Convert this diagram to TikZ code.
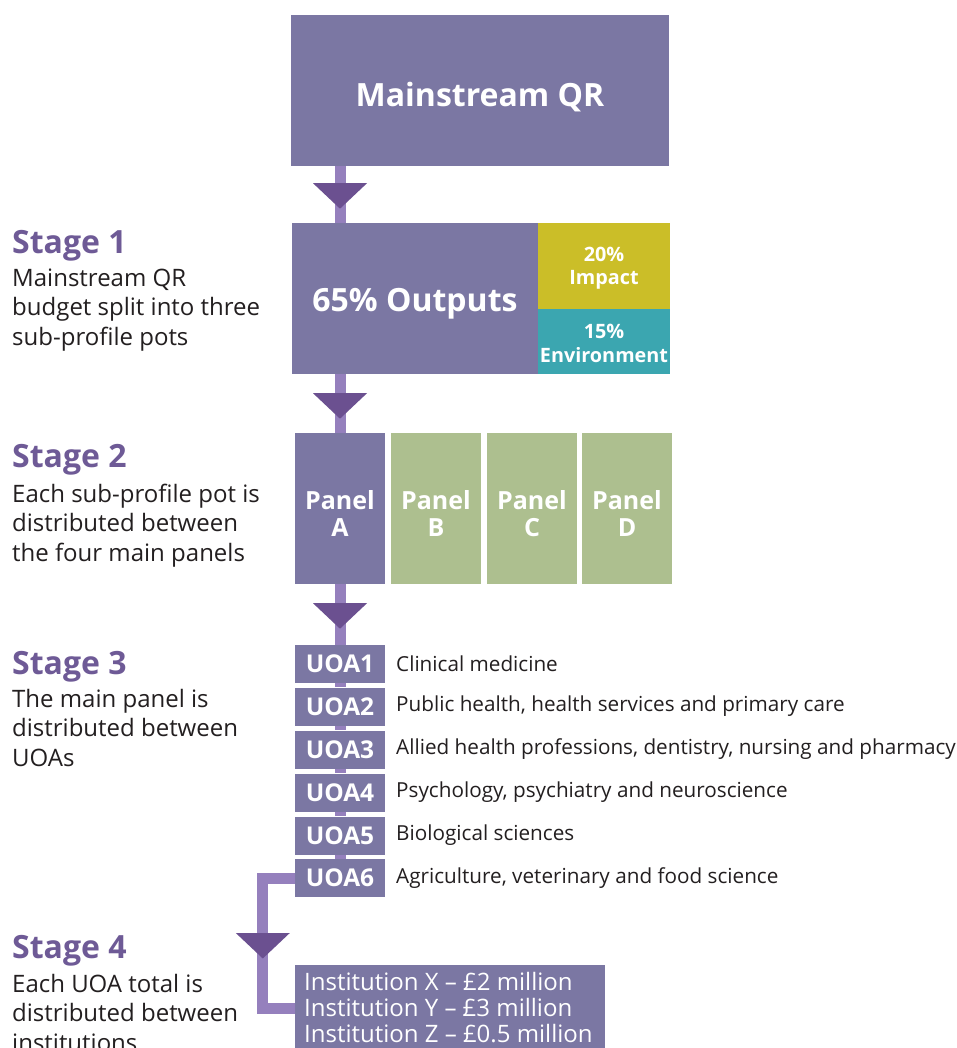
\documentclass[tikz,border=0pt]{standalone}
\usepackage{fontspec}
\setmainfont{Open Sans}
\usetikzlibrary{calc}
\definecolor{boxpurple}{HTML}{7B77A3}
\definecolor{linkpurple}{HTML}{9580BD}
\definecolor{tippurple}{HTML}{6B5090}
\definecolor{stagepurple}{HTML}{6E5A96}
\definecolor{impactyellow}{HTML}{CBBE28}
\definecolor{envteal}{HTML}{3BA6B0}
\definecolor{panelgreen}{HTML}{ADBF8F}
\definecolor{bodytext}{HTML}{231F20}
\tikzset{
  block/.style={fill=boxpurple, inner sep=0pt, text=white, align=center},
  link/.style={draw=linkpurple, line width=11pt},
  tip/.style={fill=tippurple},
  stagehead/.style={anchor=base west, inner sep=0pt, text=stagepurple,
    font=\fontsize{32}{36}\selectfont\bfseries},
  stagebody/.style={anchor=base west, inner sep=0pt, text=bodytext, align=left,
    font=\fontsize{24}{29.5}\selectfont},
  panelbox/.style={block, minimum width=90pt, minimum height=151pt,
    font=\fontsize{25}{27}\selectfont\bfseries},
  uoabox/.style={block, minimum width=90pt, minimum height=38pt,
    font=\fontsize{24.5}{26}\selectfont\bfseries},
  uoadesc/.style={anchor=west, inner sep=0pt, text=bodytext,
    font=\fontsize{20.7}{24}\selectfont},
  boxlabel/.style={inner sep=0pt, text=white, align=center},
}
% downward arrow tip hanging from a point on a connector
\newcommand\downtip[1]{\fill[tip] #1 ++(-27,0) -- ++(54,0) -- ++(-27,25.5) -- cycle;}
\begin{document}
\begin{tikzpicture}[x=1pt, y=-1pt]
\clip (0,0) rectangle (957,1048);
\fill[white] (0,0) rectangle (957,1048);

% top budget
\node[block, minimum width=378pt, minimum height=151pt] (mq) at (480,90.5) {};
\node[boxlabel, font=\fontsize{32}{36}\selectfont\bfseries] (mqt) at ($(mq)+(0,7)$) {Mainstream QR};

% stage 1: sub-profile pots
\node[block, minimum width=246pt, minimum height=151pt] (outputs) at (415,298.5) {};
\node[boxlabel, font=\fontsize{32}{36}\selectfont\bfseries] (outt) at ($(outputs)+(0,5)$) {65\% Outputs};
\node[block, fill=impactyellow, minimum width=132pt, minimum height=86pt] (impact) at (604,266) {};
\node[boxlabel, font=\fontsize{19.8}{23}\selectfont\bfseries] (impt) at ($(impact)+(0,2)$) {20\%\\Impact};
\node[block, fill=envteal, minimum width=132pt, minimum height=65pt] (env) at (604,341.5) {};
\node[boxlabel, font=\fontsize{19.8}{24}\selectfont\bfseries] (envt) at ($(env)+(0,2)$) {15\%\\Environment};

% stage 2: main panels
\node[panelbox] (pA) at (340,508.5) {};
\node[panelbox, fill=panelgreen] (pB) at (436,508.5) {};
\node[panelbox, fill=panelgreen] (pC) at (532,508.5) {};
\node[panelbox, fill=panelgreen] (pD) at (627,508.5) {};
\foreach \p/\l in {pA/A, pB/B, pC/C, pD/D}
  \node[boxlabel, font=\fontsize{25}{27}\selectfont\bfseries] (\p t) at ($(\p)+(0,5)$) {Panel\\\l};

% stage 3: units of assessment
\node[uoabox] (u1) at (340,664) {UOA1};
\node[uoabox] (u2) at (340,706.5) {UOA2};
\node[uoabox] (u3) at (340,749.5) {UOA3};
\node[uoabox] (u4) at (340,792.5) {UOA4};
\node[uoabox] (u5) at (340,835.5) {UOA5};
\node[uoabox] (u6) at (340,878) {UOA6};
\node[uoadesc] (d1) at (396,664) {Clinical medicine};
\node[uoadesc] (d2) at (396,706.5) {Public health, health services and primary care};
\node[uoadesc] (d3) at (396,749.5) {Allied health professions, dentistry, nursing and pharmacy};
\node[uoadesc] (d4) at (396,792.5) {Psychology, psychiatry and neuroscience};
\node[uoadesc] (d5) at (396,835.5) {Biological sciences};
\node[uoadesc] (d6) at (396,878) {Agriculture, veterinary and food science};

% stage 4: institutions
\node[block, minimum width=310pt, minimum height=96pt, anchor=north west] (inst) at (295,965) {};
\node[anchor=north west, inner sep=0pt, text=white, align=left,
  font=\fontsize{24}{26}\selectfont] (insttext) at (304,972)
  {Institution X -- £2 million\\Institution Y -- £3 million\\Institution Z -- £0.5 million};

% connectors
\draw[link] (mq.south -| pA.north) -- (outputs.north -| pA.north);
\draw[link] (outputs.south -| pA.north) -- (pA.north);
\draw[link] (pA.south) -- (u1.north);
\draw[link] (u1.south) -- (u2.north);
\draw[link] (u2.south) -- (u3.north);
\draw[link] (u3.south) -- (u4.north);
\draw[link] (u4.south) -- (u5.north);
\draw[link] (u5.south) -- (u6.north);
\draw[link] (u6.west) -- ++(-32,0) coordinate (bend) |- ($(inst.west)+(0,-5)$);

% arrow tips
\downtip{($(mq.south -| pA.north)+(0,17)$)}
\downtip{($(outputs.south -| pA.north)+(0,19)$)}
\downtip{($(pA.south)+(0,19)$)}
\downtip{($(bend)+(0,55)$)}

% stage captions (body nodes sit on the baseline of their last line)
\node[stagehead] (s1) at (12,254) {Stage 1};
\node[stagebody] (s1t) at (12,345) {Mainstream QR\\budget split into three\\sub-profile pots};
\node[stagehead] (s2) at (12,467) {Stage 2};
\node[stagebody] (s2t) at (12,561) {Each sub-profile pot is\\distributed between\\the four main panels};
\node[stagehead] (s3) at (12,674) {Stage 3};
\node[stagebody] (s3t) at (12,766) {The main panel is\\distributed between\\UOAs};
\node[stagehead] (s4) at (12,958) {Stage 4};
\node[stagebody] (s4t) at (12,1051) {Each UOA total is\\distributed between\\institutions};
\end{tikzpicture}
\end{document}
